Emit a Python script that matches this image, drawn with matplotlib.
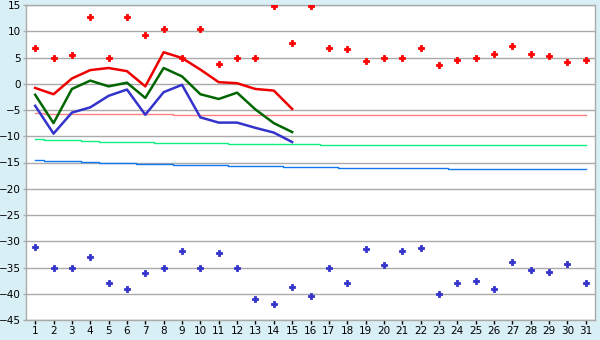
import matplotlib
matplotlib.use("Agg")
import matplotlib.pyplot as plt

# daily data for the month
days = list(range(1, 32))
line_days = list(range(1, 16))

# observed max / mean / min (first half of month)
t_max = [-0.8, -2.0, 1.0, 2.6, 3.0, 2.4, -0.5, 6.0, 4.9, 2.7, 0.3, 0.1, -1.0, -1.3, -4.8]
t_mean = [-2.1, -7.5, -1.0, 0.6, -0.5, 0.2, -2.7, 3.0, 1.4, -2.0, -2.9, -1.7, -4.9, -7.5, -9.2]
t_min = [-4.2, -9.5, -5.5, -4.5, -2.3, -1.1, -5.9, -1.6, -0.2, -6.4, -7.4, -7.4, -8.4, -9.3, -11.1]

# record highs / lows
rec_high = [6.8, 5.0, 5.5, 12.7, 5.0, 12.7, 9.3, 10.4, 4.9, 10.4, 3.8, 5.0, 4.9, 14.9, 7.8, 14.9,
            6.8, 6.6, 4.3, 5.0, 4.9, 6.8, 3.6, 4.5, 5.0, 5.7, 7.2, 5.7, 5.3, 4.1, 4.5]
rec_low = [-31.0, -35.0, -35.0, -33.0, -38.0, -39.0, -36.1, -35.0, -31.8, -35.0, -32.2, -35.0, -41.0,
           -42.0, -38.7, -40.4, -35.1, -38.0, -31.5, -34.5, -31.9, -31.3, -40.0, -38.0, -37.6, -39.1,
           -34.0, -35.5, -35.9, -34.3, -38.0]

# normals
norm_max = [-5.6] + [-5.8] * 7 + [-6.0] * 23
norm_mean = [-10.5, -10.7, -10.7, -10.9, -11.1, -11.1, -11.1, -11.3, -11.3, -11.3, -11.3,
             -11.5, -11.5, -11.5, -11.5, -11.5] + [-11.7] * 15
norm_min = [-14.5, -14.7, -14.7, -14.9, -15.1, -15.1, -15.3, -15.3, -15.5, -15.5, -15.5,
            -15.7, -15.7, -15.7, -15.9, -15.9, -15.9] + [-16.1] * 6 + [-16.2] * 8

bg = "#d9eff6"
grid_c = "#aaaaaa"

fig = plt.figure(figsize=(6, 3.4), dpi=100, facecolor=bg)
ax = fig.add_axes([26 / 600, 1 - 320 / 340, (595 - 26) / 600, (320 - 5) / 340])
ax.set_facecolor("white")

ax.plot(days, norm_max, drawstyle="steps-mid", color="#ff8080", lw=1.0, zorder=3)
ax.plot(days, norm_mean, drawstyle="steps-mid", color="#11ee80", lw=1.0, zorder=3)
ax.plot(days, norm_min, drawstyle="steps-mid", color="#1177ee", lw=1.0, zorder=3)

ax.plot(line_days, t_max, color="#ee0000", lw=1.8, zorder=4)
ax.plot(line_days, t_mean, color="#006600", lw=1.8, zorder=4)
ax.plot(line_days, t_min, color="#3333cc", lw=1.8, zorder=4)

ax.plot(days, rec_high, ls="none", marker="P", ms=5, color="#ff0000", mew=0.6, zorder=5)
ax.plot(days, rec_low, ls="none", marker="P", ms=5, color="#3333cc", mew=0.6, zorder=5)

ax.set_xlim(0.5, 31.5)
ax.set_ylim(-45, 15)
ax.set_xticks(days)
ax.set_yticks(range(-45, 16, 5))
ax.yaxis.grid(True, color=grid_c, lw=1.0, zorder=1)
ax.set_axisbelow(True)

for s in ax.spines.values():
    s.set_color(grid_c)
    s.set_linewidth(1.0)

ax.tick_params(axis="both", labelsize=7.5, colors="black", length=3, width=1, pad=1.5)
ax.tick_params(axis="x", color="black")
ax.tick_params(axis="y", color=grid_c, length=2.5, pad=1)

fig.savefig("out.png", dpi=100, facecolor=bg)
